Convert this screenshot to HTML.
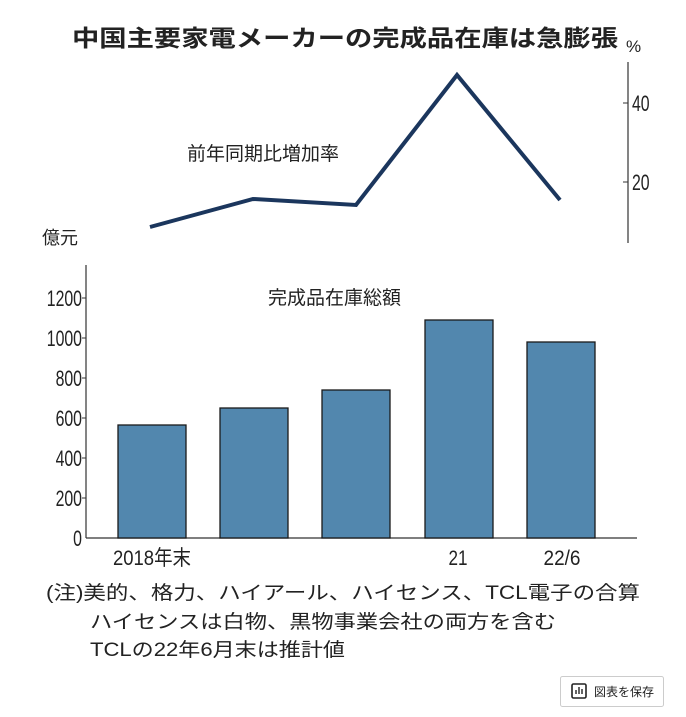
<!DOCTYPE html>
<html><head><meta charset="utf-8"><style>
body{margin:0;background:#fff;}
svg text{font-family:"Liberation Sans","Noto Sans CJK JP",sans-serif;fill:#222;}
</style></head><body>
<svg width="686" height="712" viewBox="0 0 686 712" xmlns="http://www.w3.org/2000/svg">
<text x="72" y="46" font-size="23" font-weight="bold" textLength="546" lengthAdjust="spacingAndGlyphs">中国主要家電メーカーの完成品在庫は急膨張</text>
<text x="626" y="52" font-size="17" fill="#333">%</text>
<line x1="628" y1="62" x2="628" y2="243" stroke="#333" stroke-width="1.2"/>
<line x1="623" y1="103" x2="628" y2="103" stroke="#333"/>
<line x1="623" y1="182" x2="628" y2="182" stroke="#333"/>
<text x="632" y="111" font-size="22" transform="translate(632 0) scale(0.72 1) translate(-632 0)">40</text>
<text x="632" y="190" font-size="22" transform="translate(632 0) scale(0.72 1) translate(-632 0)">20</text>
<polyline points="150,227 253,199 356,205 457,75 560,200" fill="none" stroke="#1b365d" stroke-width="4" stroke-linejoin="miter"/>
<text x="187" y="160" font-size="19">前年同期比増加率</text>
<text x="42" y="244" font-size="18">億元</text>

<line x1="86" y1="265" x2="86" y2="538" stroke="#333" stroke-width="1.2"/>
<line x1="86" y1="538" x2="637" y2="538" stroke="#333" stroke-width="1.2"/>
<g stroke="#333">
<line x1="82" y1="298" x2="86" y2="298"/><line x1="82" y1="338" x2="86" y2="338"/><line x1="82" y1="378" x2="86" y2="378"/><line x1="82" y1="418" x2="86" y2="418"/><line x1="82" y1="458" x2="86" y2="458"/><line x1="82" y1="498" x2="86" y2="498"/>
</g>
<g font-size="22" text-anchor="end" transform="translate(82 0) scale(0.72 1) translate(-82 0)">
<text x="82" y="306">1200</text><text x="82" y="346">1000</text><text x="82" y="386">800</text><text x="82" y="426">600</text><text x="82" y="466">400</text><text x="82" y="506">200</text><text x="82" y="546">0</text>
</g>
<text x="268" y="304" font-size="19">完成品在庫総額</text>
<g fill="#5287ae" stroke="#1a1a1a" stroke-width="1.3">
<rect x="118" y="425" width="68" height="113"/>
<rect x="220" y="408" width="68" height="130"/>
<rect x="322" y="390" width="68" height="148"/>
<rect x="425" y="320" width="68" height="218"/>
<rect x="527" y="342" width="68" height="196"/>
</g>
<text x="152" y="565" font-size="21" text-anchor="middle" textLength="78" lengthAdjust="spacingAndGlyphs">2018年末</text>
<text x="458" y="565" font-size="21" text-anchor="middle" textLength="19" lengthAdjust="spacingAndGlyphs">21</text>
<text x="562" y="565" font-size="21" text-anchor="middle" textLength="37" lengthAdjust="spacingAndGlyphs">22/6</text>
<text x="46" y="599" font-size="19" textLength="594" lengthAdjust="spacingAndGlyphs">(注)美的、格力、ハイアール、ハイセンス、TCL電子の合算</text>
<text x="90" y="628" font-size="19" textLength="466" lengthAdjust="spacingAndGlyphs">ハイセンスは白物、黒物事業会社の両方を含む</text>
<text x="90" y="656" font-size="19" textLength="255" lengthAdjust="spacingAndGlyphs">TCLの22年6月末は推計値</text>
<rect x="560.5" y="676.5" width="103" height="30" rx="2" fill="#fff" stroke="#ccc"/>
<rect x="572" y="684" width="14" height="14" rx="1.5" fill="none" stroke="#222" stroke-width="1.6"/>
<line x1="576" y1="694" x2="576" y2="690" stroke="#222" stroke-width="1.4"/><line x1="579" y1="694" x2="579" y2="687" stroke="#222" stroke-width="1.4"/><line x1="582" y1="694" x2="582" y2="689" stroke="#222" stroke-width="1.4"/>
<text x="594" y="696" font-size="12" fill="#333">図表を保存</text>
</svg>
</body></html>
